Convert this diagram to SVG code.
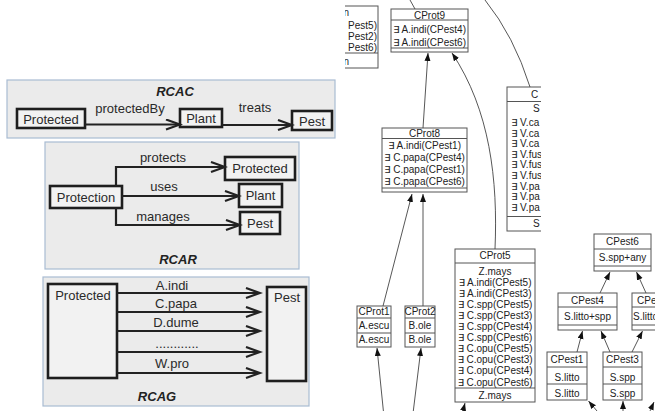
<svg xmlns="http://www.w3.org/2000/svg" width="655" height="411" viewBox="0 0 655 411">
<style>
.panel{fill:#ebebeb;stroke:#a9bcd2;stroke-width:1.2}
.bx{fill:#f2f2f2;stroke:#1e1e1e;stroke-width:2.6}
.lt{font-family:"Liberation Sans",Arial,sans-serif;font-size:13px;fill:#2a2a2a;text-anchor:middle}
.ttl{font-family:"Liberation Sans",Arial,sans-serif;font-size:13px;font-weight:bold;font-style:italic;fill:#222;text-anchor:middle}
.ln{fill:none;stroke:#222;stroke-width:2.2}
.ub{fill:#fff;stroke:#555;stroke-width:1}
.us{stroke:#555;stroke-width:1}
.rt{font-family:"Liberation Sans",Arial,"DejaVu Sans",sans-serif;font-size:10px;fill:#222;text-anchor:middle}
.rs{font-family:"Liberation Sans",Arial,"DejaVu Sans",sans-serif;font-size:10px;fill:#222}
.rl{fill:none;stroke:#444;stroke-width:0.9}
</style>
<defs>
<marker id="ov" markerUnits="userSpaceOnUse" markerWidth="18" markerHeight="14" refX="15" refY="6" orient="auto">
<path d="M1,1 L15,6 L1,11" fill="none" stroke="#222" stroke-width="2.2"/>
</marker>
<marker id="ft" markerUnits="userSpaceOnUse" markerWidth="9" markerHeight="7" refX="8" refY="3" orient="auto">
<path d="M0,0 L8,3 L0,6 z" fill="#111"/>
</marker>
<clipPath id="cl"><rect x="345" y="0" width="40" height="80"/></clipPath>
<clipPath id="cv"><rect x="400" y="0" width="141" height="240"/></clipPath>
</defs>

<!-- RCAC -->
<g id="rcac">
<rect class="panel" x="7" y="80" width="328" height="58"/>
<text class="ttl" x="175" y="96">RCAC</text>
</g>
<g id="rcac-protected"><rect class="bx" x="17" y="109" width="68" height="19"/><text class="lt" x="51" y="123.5">Protected</text></g>
<g id="rcac-plant"><rect class="bx" x="180" y="109" width="42" height="18"/><text class="lt" x="201" y="123">Plant</text></g>
<g id="rcac-pest"><rect class="bx" x="292" y="111" width="40" height="19"/><text class="lt" x="312" y="125.5">Pest</text></g>

<!-- RCAR -->
<g id="rcar">
<rect class="panel" x="45" y="142" width="254" height="127"/>
<text class="ttl" x="178" y="264">RCAR</text>
</g>
<g id="rcar-protection"><rect class="bx" x="50" y="186" width="72" height="22"/><text class="lt" x="86" y="202">Protection</text></g>
<g id="rcar-protected"><rect class="bx" x="225" y="157" width="70" height="23"/><text class="lt" x="260" y="173">Protected</text></g>
<g id="rcar-plant"><rect class="bx" x="239" y="184" width="43" height="23"/><text class="lt" x="260.5" y="200">Plant</text></g>
<g id="rcar-pest"><rect class="bx" x="240" y="212" width="40" height="22"/><text class="lt" x="260" y="228">Pest</text></g>

<!-- RCAG -->
<g id="rcag">
<rect class="panel" x="43" y="277" width="266" height="129"/>
<text class="ttl" x="157" y="401">RCAG</text>
</g>
<g id="rcag-protected"><rect class="bx" x="48" y="284" width="69" height="94"/><text class="lt" x="83" y="300">Protected</text></g>
<g id="rcag-pest"><rect class="bx" x="267" y="287" width="39" height="94"/><text class="lt" x="287" y="302">Pest</text></g>

<!-- left connectors -->
<g id="left-connectors">
<path class="ln" d="M85,124.5 H180" marker-end="url(#ov)"/>
<text class="lt" x="130" y="113">protectedBy</text>
<path class="ln" d="M222,125 H292" marker-end="url(#ov)"/>
<text class="lt" x="255" y="112">treats</text>
<path class="ln" d="M116,186 V167 H225" marker-end="url(#ov)"/>
<text class="lt" x="163" y="162">protects</text>
<path class="ln" d="M122,196 H239" marker-end="url(#ov)"/>
<text class="lt" x="164" y="191">uses</text>
<path class="ln" d="M116,208 V225 H240" marker-end="url(#ov)"/>
<text class="lt" x="163" y="221">manages</text>
<path class="ln" d="M117,293 H260" marker-end="url(#ov)"/>
<text class="lt" x="172" y="290">A.indi</text>
<path class="ln" d="M117,312 H260" marker-end="url(#ov)"/>
<text class="lt" x="176" y="308">C.papa</text>
<path class="ln" d="M117,331 H260" marker-end="url(#ov)"/>
<text class="lt" x="176" y="327">D.dume</text>
<path class="ln" d="M117,352 H260" marker-end="url(#ov)"/>
<text class="lt" x="177" y="348">............</text>
<path class="ln" d="M117,373 H260" marker-end="url(#ov)"/>
<text class="lt" x="172" y="368">W.pro</text>
</g>

<!-- right lattice -->
<g id="cut-box" clip-path="url(#cl)">
<rect class="ub" x="300" y="6" width="78" height="62"/>
<line class="us" x1="300" y1="53" x2="378" y2="53"/>
<text class="rs" x="349" y="16" text-anchor="end">n</text>
<text class="rs" x="377" y="28.5" text-anchor="end">Pest5)</text>
<text class="rs" x="377" y="39.5" text-anchor="end">Pest2)</text>
<text class="rs" x="377" y="50.5" text-anchor="end">Pest6)</text>
<text class="rs" x="349" y="64.5" text-anchor="end">n</text>
</g>

<g id="cprot9">
<rect class="ub" x="391" y="9" width="77" height="43"/>
<line class="us" x1="391" y1="20" x2="468" y2="20"/>
<line class="us" x1="391" y1="48" x2="468" y2="48"/>
<text class="rt" x="429.5" y="18.5">CProt9</text>
<text class="rt" x="429.5" y="33">∃ A.indi(CPest4)</text>
<text class="rt" x="429.5" y="45.5">∃ A.indi(CPest6)</text>
</g>

<g id="cprot8">
<rect class="ub" x="382" y="128" width="85" height="64"/>
<line class="us" x1="382" y1="138.5" x2="467" y2="138.5"/>
<line class="us" x1="382" y1="188" x2="467" y2="188"/>
<text class="rt" x="424.5" y="137">CProt8</text>
<text class="rt" x="424.5" y="148.5">∃ A.indi(CPest1)</text>
<text class="rt" x="424.5" y="160.5">∃ C.papa(CPest4)</text>
<text class="rt" x="424.5" y="172.5">∃ C.papa(CPest1)</text>
<text class="rt" x="424.5" y="184.5">∃ C.papa(CPest6)</text>
</g>

<g id="cv-box" clip-path="url(#cv)">
<rect class="ub" x="507" y="87" width="100" height="144"/>
<line class="us" x1="507" y1="101.5" x2="607" y2="101.5"/>
<line class="us" x1="507" y1="216.5" x2="607" y2="216.5"/>
<text class="rs" x="531" y="97.5">C</text>
<text class="rs" x="533" y="112">S</text>
<text class="rs" x="511" y="126">∃ V.ca</text>
<text class="rs" x="511" y="136.6">∃ V.ca</text>
<text class="rs" x="511" y="147.2">∃ V.ca</text>
<text class="rs" x="511" y="157.8">∃ V.fus</text>
<text class="rs" x="511" y="168.4">∃ V.fus</text>
<text class="rs" x="511" y="179">∃ V.fus</text>
<text class="rs" x="511" y="189.6">∃ V.pa</text>
<text class="rs" x="511" y="200.2">∃ V.pa</text>
<text class="rs" x="511" y="210.8">∃ V.pa</text>
<text class="rs" x="533" y="227">S</text>
</g>

<g id="cprot1">
<rect class="ub" x="357" y="306" width="34" height="41"/>
<line class="us" x1="357" y1="318" x2="391" y2="318"/>
<line class="us" x1="357" y1="333" x2="391" y2="333"/>
<text class="rt" x="374" y="315">CProt1</text>
<text class="rt" x="374" y="329">A.escu</text>
<text class="rt" x="374" y="343">A.escu</text>
</g>

<g id="cprot2">
<rect class="ub" x="405" y="306" width="30" height="41"/>
<line class="us" x1="405" y1="318" x2="435" y2="318"/>
<line class="us" x1="405" y1="333" x2="435" y2="333"/>
<text class="rt" x="420" y="315">CProt2</text>
<text class="rt" x="420" y="329">B.ole</text>
<text class="rt" x="420" y="343">B.ole</text>
</g>

<g id="cprot5">
<rect class="ub" x="455" y="249" width="80" height="153"/>
<line class="us" x1="455" y1="263" x2="535" y2="263"/>
<line class="us" x1="455" y1="388" x2="535" y2="388"/>
<text class="rt" x="495" y="258.5">CProt5</text>
<text class="rt" x="495" y="274.5">Z.mays</text>
<text class="rt" x="495" y="285.6">∃ A.indi(CPest5)</text>
<text class="rt" x="495" y="296.7">∃ A.indi(CPest3)</text>
<text class="rt" x="495" y="307.8">∃ C.spp(CPest5)</text>
<text class="rt" x="495" y="318.9">∃ C.spp(CPest3)</text>
<text class="rt" x="495" y="330">∃ C.spp(CPest4)</text>
<text class="rt" x="495" y="341.1">∃ C.spp(CPest6)</text>
<text class="rt" x="495" y="352.2">∃ C.opu(CPest5)</text>
<text class="rt" x="495" y="363.3">∃ C.opu(CPest3)</text>
<text class="rt" x="495" y="374.4">∃ C.opu(CPest4)</text>
<text class="rt" x="495" y="385.5">∃ C.opu(CPest6)</text>
<text class="rt" x="495" y="399">Z.mays</text>
</g>

<g id="cpest6">
<rect class="ub" x="594" y="234" width="57" height="37"/>
<line class="us" x1="594" y1="249" x2="651" y2="249"/>
<line class="us" x1="594" y1="266" x2="651" y2="266"/>
<text class="rt" x="622.5" y="245">CPest6</text>
<text class="rt" x="622.5" y="261">S.spp+any</text>
</g>

<g id="cpest4">
<rect class="ub" x="558" y="293" width="59" height="37"/>
<line class="us" x1="558" y1="307" x2="617" y2="307"/>
<line class="us" x1="558" y1="325" x2="617" y2="325"/>
<text class="rt" x="587.5" y="303.5">CPest4</text>
<text class="rt" x="587.5" y="320">S.litto+spp</text>
</g>

<g id="cpest5">
<rect class="ub" x="632" y="293" width="59" height="37"/>
<line class="us" x1="632" y1="307" x2="691" y2="307"/>
<line class="us" x1="632" y1="325" x2="691" y2="325"/>
<text class="rs" x="637" y="303.5">CPest5</text>
<text class="rs" x="633" y="320">S.litto+spp</text>
</g>

<g id="cpest1">
<rect class="ub" x="547" y="352" width="40" height="48"/>
<line class="us" x1="547" y1="367" x2="587" y2="367"/>
<line class="us" x1="547" y1="384" x2="587" y2="384"/>
<text class="rt" x="567" y="363">CPest1</text>
<text class="rt" x="567" y="380.5">S.litto</text>
<text class="rt" x="567" y="396.5">S.litto</text>
</g>

<g id="cpest3">
<rect class="ub" x="603" y="352" width="39" height="48"/>
<line class="us" x1="603" y1="367" x2="642" y2="367"/>
<line class="us" x1="603" y1="384" x2="642" y2="384"/>
<text class="rt" x="622.5" y="363">CPest3</text>
<text class="rt" x="622.5" y="380.5">S.spp</text>
<text class="rt" x="622.5" y="396.5">S.spp</text>
</g>

<g id="right-connectors">
<path class="rl" d="M415,9 L410,0"/>
<path class="rl" d="M485,0 Q514,36 530,87"/>
<path class="rl" d="M423,128 L428,53" marker-end="url(#ft)"/>
<path class="rl" d="M495,249 C498,180 490,110 452,53" marker-end="url(#ft)"/>
<path class="rl" d="M383,306 L412,194" marker-end="url(#ft)"/>
<path class="rl" d="M423,306 L423,194" marker-end="url(#ft)"/>
<path class="rl" d="M383.4,411 L377,348" marker-end="url(#ft)"/>
<path class="rl" d="M413.3,411 L421,348" marker-end="url(#ft)"/>
<path class="rl" d="M463,411 L465,403" marker-end="url(#ft)"/>
<path class="rl" d="M600,293 L610,272" marker-end="url(#ft)"/>
<path class="rl" d="M646,293 L636.5,272" marker-end="url(#ft)"/>
<path class="rl" d="M577,352 L582.5,331" marker-end="url(#ft)"/>
<path class="rl" d="M610,352 L601,331" marker-end="url(#ft)"/>
<path class="rl" d="M632,352 L642.5,331" marker-end="url(#ft)"/>
<path class="rl" d="M597,411 L588.5,401" marker-end="url(#ft)"/>
<path class="rl" d="M623,411 L623,401" marker-end="url(#ft)"/>
<path class="rl" d="M650,411 L654,402" marker-end="url(#ft)"/>
</g>
</svg>
